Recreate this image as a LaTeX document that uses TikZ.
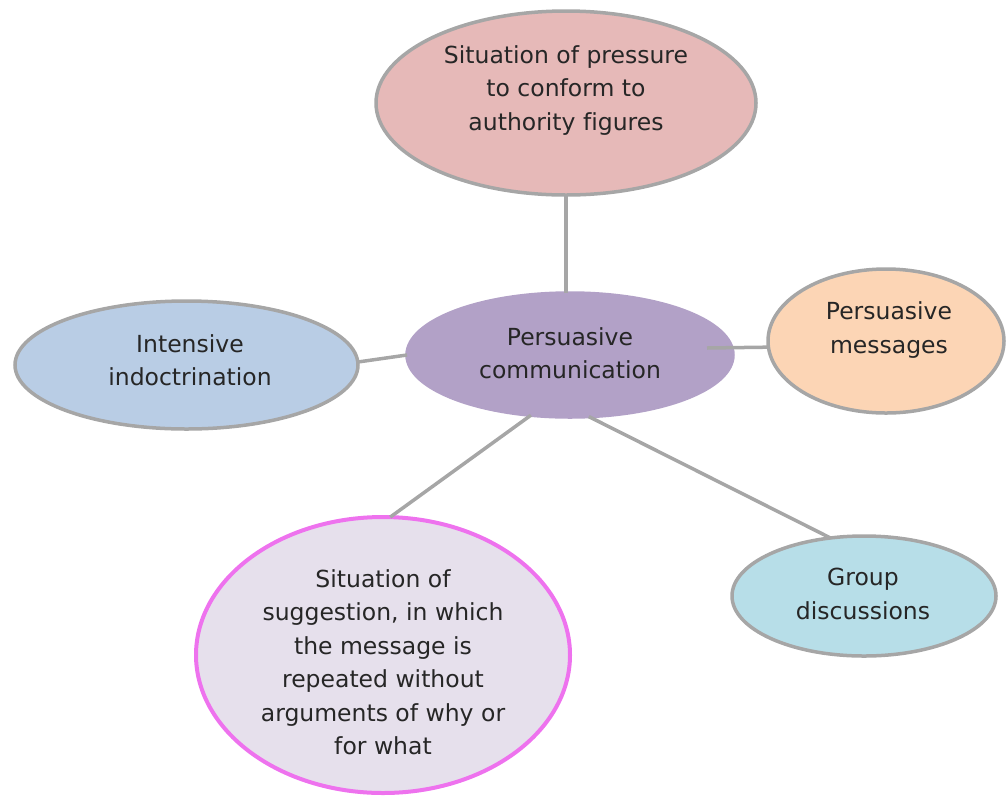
\documentclass[tikz,border=0pt]{standalone}
\usepackage{fontspec}
\setmainfont[Ligatures=NoCommon]{DejaVu Sans}
\usetikzlibrary{shapes.geometric}
\definecolor{edgegray}{HTML}{A6A6A6}
\definecolor{txt}{HTML}{262626}
\definecolor{ftop}{HTML}{E6B9B8}
\definecolor{fcen}{HTML}{B2A1C7}
\definecolor{fleft}{HTML}{B9CDE5}
\definecolor{fright}{HTML}{FCD5B5}
\definecolor{fbr}{HTML}{B7DEE8}
\definecolor{fpink}{HTML}{E6E0EC}
\definecolor{bpink}{HTML}{EE72EE}
\begin{document}
\begin{tikzpicture}[x=1pt,y=-1pt,
  bubble/.style={ellipse, draw=edgegray, line width=3.5pt, inner sep=0pt, outer sep=0pt},
  label text/.style={text=txt, align=center, font=\fontsize{23.5}{33.5}\selectfont, inner sep=0pt},
  link/.style={draw=edgegray, line width=3.5pt}]
\useasboundingbox (0,0) rectangle (1006,796);
% ellipses
\node[bubble, fill=ftop, minimum width=380pt, minimum height=184pt] (top) at (566,103) {};
\node[bubble, fill=fcen, draw=fcen, minimum width=326pt, minimum height=124pt] (cen) at (570,355) {};
\node[bubble, fill=fleft, minimum width=343pt, minimum height=128pt] (left) at (186.5,365) {};
\node[bubble, fill=fright, minimum width=236pt, minimum height=144pt] (right) at (886,341) {};
\node[bubble, fill=fbr, minimum width=264pt, minimum height=120pt] (br) at (864,596) {};
\node[bubble, fill=fpink, draw=bpink, line width=4pt, minimum width=374pt, minimum height=276pt] (pink) at (383,655) {};
% connectors
\coordinate (rstart) at (707,348);
\draw[link] (top.south) -- (top.south |- cen.north);
\draw[link] (left.1.7) -- (cen.180);
\draw[link] (rstart) -- (right.183.5);
\draw[link] (cen.237.6) -- (pink.87.2);
\draw[link] (cen.287) -- (br.120.5);
% texts
\node[label text] (topT) at (566,90.5) {Situation of pressure\\to conform to\\authority figures};
\node[label text] (cenT) at (570,353) {Persuasive\\communication};
\node[label text] (leftT) at (190,360) {Intensive\\indoctrination};
\node[label text] (rightT) at (889,330) {Persuasive\\messages};
\node[label text] (brT) at (863,594) {Group\\discussions};
\node[label text] (pinkT) at (383,662) {Situation of\\suggestion, in which\\the message is\\repeated without\\arguments of why or\\for what};
\end{tikzpicture}
\end{document}
